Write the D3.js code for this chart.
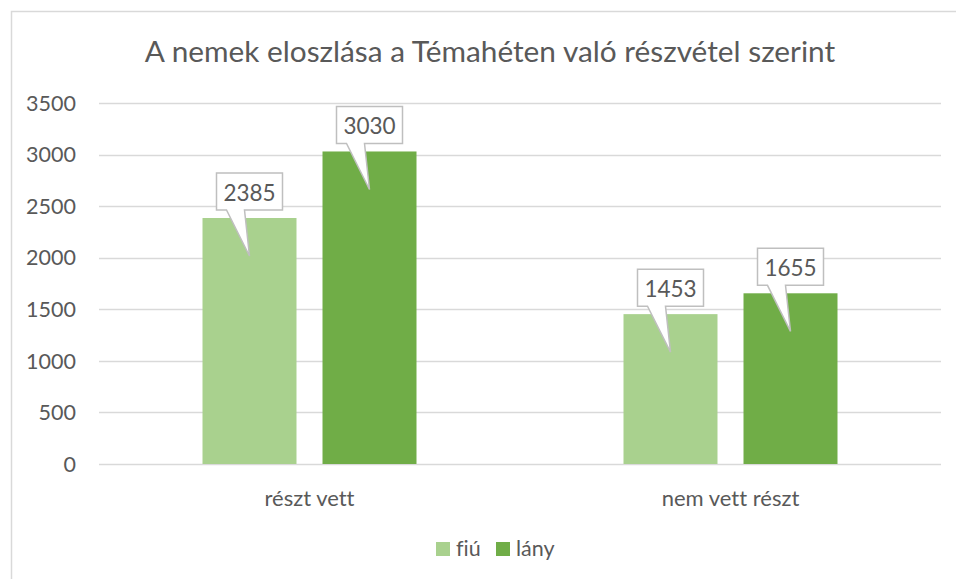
<!DOCTYPE html>
<html>
<head>
<meta charset="utf-8">
<script src="https://cdn.jsdelivr.net/npm/d3@7"></script>
<style>
  body { margin: 0; background: #fff; }
  svg { display: block; font-family: Lato, "Liberation Sans", sans-serif; font-variant-ligatures: none; }
</style>
</head>
<body>
<svg id="chart" width="956" height="579"></svg>
<script>
const categories = ["részt vett", "nem vett részt"];
const seriesNames = ["fiú", "lány"];
const fiu = [2385, 1453];
const lany = [3030, 1655];
const yTicks = [0, 500, 1000, 1500, 2000, 2500, 3000, 3500];
const colors = ["#A9D18E", "#70AD47"];

const svg = d3.select("#chart");
const margin = { top: 103, right: 15, bottom: 115, left: 99 };
const width = 956, height = 579;

// chart frame
svg.append("rect")
  .attr("x", 11.5).attr("y", 11.5)
  .attr("width", 960).attr("height", 600)
  .attr("fill", "none").attr("stroke", "#D9D9D9").attr("stroke-width", 1.5);

svg.append("text")
  .attr("x", 490).attr("y", 62)
  .attr("text-anchor", "middle")
  .attr("font-size", 29.8)
  .attr("fill", "#595959")
  .text("A nemek eloszlása a Témahéten való részvétel szerint");

const x0 = d3.scaleBand()
  .domain(categories)
  .range([margin.left, width - margin.right])
  .paddingInner(0).paddingOuter(0);

const x1 = d3.scaleBand()
  .domain(seriesNames)
  .range([0, x0.bandwidth()])
  .paddingInner(0.2167).paddingOuter(0.8625);

const y = d3.scaleLinear()
  .domain([0, 3500])
  .range([height - margin.bottom, margin.top]);

// gridlines
svg.append("g")
  .selectAll("line")
  .data(yTicks)
  .join("line")
  .attr("x1", margin.left).attr("x2", width - margin.right)
  .attr("y1", d => Math.round(y(d)) + 0.5).attr("y2", d => Math.round(y(d)) + 0.5)
  .attr("stroke", "#D9D9D9").attr("stroke-width", 1.5);

// y tick labels
svg.append("g")
  .selectAll("text")
  .data(yTicks)
  .join("text")
  .attr("x", 76).attr("y", d => y(d))
  .attr("dy", "0.36em")
  .attr("text-anchor", "end")
  .attr("font-size", 21.5)
  .attr("fill", "#595959")
  .text(d => d);

const rows = categories.map((c, i) => ({ cat: c, values: [fiu[i], lany[i]] }));

const groups = svg.append("g")
  .selectAll("g")
  .data(rows)
  .join("g")
  .attr("transform", d => `translate(${x0(d.cat)},0)`);

groups.selectAll("rect")
  .data(d => d.values.map((v, j) => ({ name: seriesNames[j], value: v, j })))
  .join("rect")
  .attr("x", d => x1(d.name))
  .attr("y", d => y(d.value))
  .attr("width", x1.bandwidth())
  .attr("height", d => y(0) - y(d.value))
  .attr("fill", d => colors[d.j]);

// callout labels
const bw = 66, bh = 37;
groups.selectAll("g.callout")
  .data(d => d.values.map((v, j) => ({ name: seriesNames[j], value: v, j })))
  .join("g")
  .attr("class", "callout")
  .each(function (d) {
    const g = d3.select(this);
    const cx = x1(d.name) + x1.bandwidth() / 2;
    const top = y(d.value);
    const bx = cx - bw / 2, by = top - 8 - bh;
    const tipY = top + 38;
    const path = [
      [bx, by], [bx + bw, by], [bx + bw, by + bh],
      [bx + 28, by + bh], [cx, tipY], [bx + 10, by + bh],
      [bx, by + bh]
    ];
    g.append("path")
      .attr("d", d3.line()(path) + "Z")
      .attr("fill", "#fff")
      .attr("stroke", "#BFBFBF")
      .attr("stroke-width", 1.5);
    g.append("text")
      .attr("x", cx).attr("y", by + bh / 2 + 1)
      .attr("dy", "0.36em")
      .attr("text-anchor", "middle")
      .attr("font-size", 22.5)
      .attr("fill", "#595959")
      .text(d.value);
  });

// category labels
svg.append("g")
  .selectAll("text")
  .data(categories)
  .join("text")
  .attr("x", d => x0(d) + x0.bandwidth() / 2)
  .attr("y", 506)
  .attr("text-anchor", "middle")
  .attr("font-size", 22)
  .attr("fill", "#595959")
  .text(d => d);

// legend
const legendX = [436, 496];
const legend = svg.append("g")
  .selectAll("g")
  .data(seriesNames)
  .join("g")
  .attr("transform", (d, i) => `translate(${legendX[i]},542)`);
legend.append("rect")
  .attr("width", 14).attr("height", 14)
  .attr("fill", (d, i) => colors[i]);
legend.append("text")
  .attr("x", 20).attr("y", 14)
  .attr("font-size", 21.5)
  .attr("fill", "#595959")
  .text(d => d);
</script>
</body>
</html>
